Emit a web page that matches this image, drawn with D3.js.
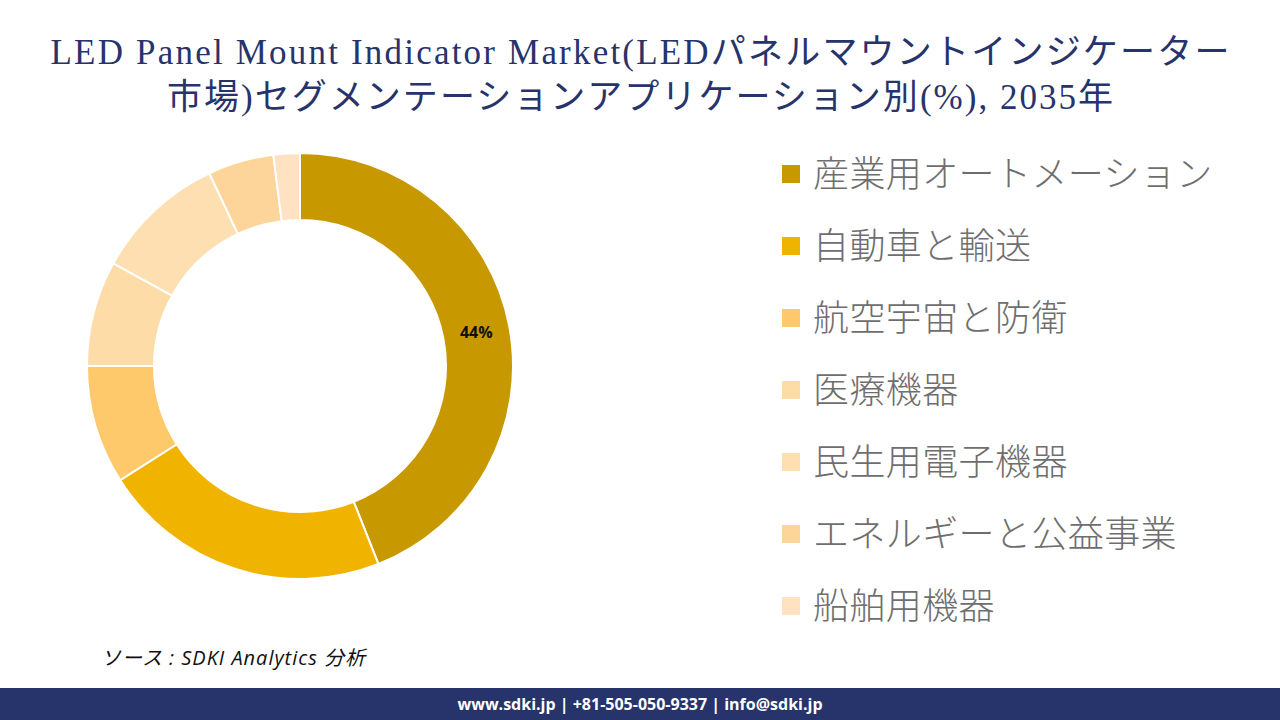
<!DOCTYPE html>
<html>
<head>
<meta charset="utf-8">
<script src="https://cdn.jsdelivr.net/npm/d3@7"></script>
<style>
  body { margin: 0; background: #fff; }
  svg { display: block; }
</style>
</head>
<body>
<div id="chart-area"></div>
<script>
var width = 1280;
var height = 720;

// segment names (legend order = slice order, clockwise from top)
var categories = ["産業用オートメーション", "自動車と輸送", "航空宇宙と防衛", "医療機器", "民生用電子機器", "エネルギーと公益事業", "船舶用機器"];
var shares = [44, 22, 9, 8, 10, 5, 2];
var colors = ["#C89800", "#F0B400", "#FDC96B", "#FDDCA8", "#FDDFB2", "#FDD59A", "#FEE2C2"];
var titleLines = ["LED Panel Mount Indicator Market(LEDパネルマウントインジケーター", "市場)セグメンテーションアプリケーション別(%), 2035年"];
var titleWidths = [1179, 946];

var svg = d3.select("#chart-area")
  .append("svg")
  .attr("width", width)
  .attr("height", height);

// title, stretched to the width it takes in the original
svg.selectAll(".title")
  .data(titleLines)
  .enter().append("text")
  .attr("class", "title")
  .attr("x", 640)
  .attr("y", (d, i) => 64 + i * 45)
  .attr("text-anchor", "middle")
  .attr("textLength", (d, i) => titleWidths[i])
  .attr("lengthAdjust", "spacing")
  .attr("font-family", "'Liberation Serif', 'DejaVu Serif', 'Noto Sans CJK JP', serif")
  .attr("font-size", "35px")
  .style("fill", "#27336B")
  .text((d) => d);

// donut
var cx = 300, cy = 366;
var outerR = 213, innerR = 146;

var pie = d3.pie().sort(null).value((d) => d);
var arc = d3.arc().innerRadius(innerR).outerRadius(outerR);

var g = svg.append("g")
  .attr("transform", "translate(" + cx + ", " + cy + ")");

g.selectAll("path")
  .data(pie(shares))
  .enter().append("path")
  .attr("d", arc)
  .attr("fill", (d, i) => colors[i])
  .attr("stroke", "#fff")
  .attr("stroke-width", 2);

// only the largest slice gets a label
g.selectAll(".lbl")
  .data(pie(shares).filter((d) => d.data >= 30))
  .enter().append("text")
  .attr("class", "lbl")
  .attr("transform", (d) => "translate(" + arc.centroid(d) + ")")
  .attr("text-anchor", "middle")
  .attr("dy", "0.35em")
  .attr("font-family", "'Open Sans', 'Liberation Sans', sans-serif")
  .attr("font-weight", "bold")
  .attr("font-size", "16px")
  .style("fill", "#111")
  .text((d) => d.data + "%");

// legend
var legend = svg.selectAll(".legend")
  .data(categories)
  .enter().append("g")
  .attr("class", "legend")
  .attr("transform", (d, i) => "translate(782, " + (174 + i * 72) + ")");

legend.append("rect")
  .attr("x", 0)
  .attr("y", -9)
  .attr("width", 18)
  .attr("height", 18)
  .attr("fill", (d, i) => colors[i]);

legend.append("text")
  .attr("x", 31)
  .attr("y", -3)
  .attr("dominant-baseline", "central")
  .attr("font-family", "'Noto Sans CJK JP', sans-serif")
  .attr("font-weight", 300)
  .attr("font-size", "36px")
  .attr("letter-spacing", "0.4px")
  .style("fill", "#6E6E6E")
  .text((d) => d);

// source note
svg.append("text")
  .attr("x", 101)
  .attr("y", 665)
  .attr("font-family", "'Open Sans', 'Noto Sans CJK JP', sans-serif")
  .attr("font-style", "italic")
  .attr("font-size", "20px")
  .attr("textLength", 264)
  .attr("lengthAdjust", "spacing")
  .style("fill", "#111")
  .text("ソース : SDKI Analytics  分析");

// footer bar
svg.append("rect")
  .attr("x", 0)
  .attr("y", 688)
  .attr("width", width)
  .attr("height", 32)
  .attr("fill", "#27336B");

svg.append("text")
  .attr("x", 640)
  .attr("y", 704)
  .attr("dy", "0.35em")
  .attr("text-anchor", "middle")
  .attr("font-family", "'Open Sans', 'Liberation Sans', sans-serif")
  .attr("font-weight", "bold")
  .attr("font-size", "16px")
  .style("fill", "#fff")
  .text("www.sdki.jp | +81-505-050-9337 | info@sdki.jp");
</script>
</body>
</html>
